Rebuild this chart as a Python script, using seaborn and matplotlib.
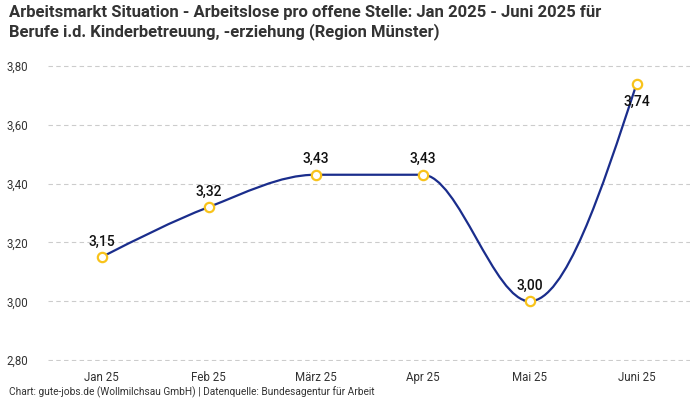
import matplotlib
matplotlib.use("Agg")
import matplotlib.pyplot as plt
import seaborn as sns
import pandas as pd
from matplotlib.path import Path
from matplotlib.patches import PathPatch

monate = ['Jan 25', 'Feb 25', 'März 25', 'Apr 25', 'Mai 25', 'Juni 25']
werte = [3.15, 3.32, 3.43, 3.43, 3.00, 3.74]
y_ticks = [2.8, 3.0, 3.2, 3.4, 3.6, 3.8]

line_col = '#1a2d8c'
dot_col = '#f8c31b'

sns.set_theme(style='white')
plt.rcParams['font.family'] = ['Roboto', 'DejaVu Sans']

df = pd.DataFrame({'Monat': monate, 'Wert': werte})
df['pos'] = range(len(df))


def monotone_path(xs, ys):
    # monotone cubic curve (like d3 curveMonotoneX) as bezier path
    n = len(xs)
    s = [(ys[i + 1] - ys[i]) / (xs[i + 1] - xs[i]) for i in range(n - 1)]
    t = [0.0] * n
    for i in range(1, n - 1):
        h0 = xs[i] - xs[i - 1]
        h1 = xs[i + 1] - xs[i]
        s0, s1 = s[i - 1], s[i]
        p = (s0 * h1 + s1 * h0) / (h0 + h1)
        sg = (1 if s0 > 0 else -1 if s0 < 0 else 0) + (1 if s1 > 0 else -1 if s1 < 0 else 0)
        t[i] = sg * min(abs(s0), abs(s1), 0.5 * abs(p)) if sg else 0.0
    t[0] = (3 * s[0] - t[1]) / 2
    t[-1] = (3 * s[-1] - t[-2]) / 2
    verts = [(xs[0], ys[0])]
    codes = [Path.MOVETO]
    for i in range(n - 1):
        dx = (xs[i + 1] - xs[i]) / 3
        verts += [(xs[i] + dx, ys[i] + dx * t[i]),
                  (xs[i + 1] - dx, ys[i + 1] - dx * t[i + 1]),
                  (xs[i + 1], ys[i + 1])]
        codes += [Path.CURVE4] * 3
    return Path(verts, codes)


fig = plt.figure(figsize=(7, 4), dpi=100)
ax = fig.add_axes([0.0686, 0.0975, 0.9174, 0.74])

ax.add_patch(PathPatch(monotone_path(list(df['pos']), list(df['Wert'])),
                       facecolor='none', edgecolor=line_col, lw=1.6, zorder=3))
sns.scatterplot(data=df, x='pos', y='Wert', ax=ax, s=45, color='white',
                edgecolor=dot_col, linewidth=1.6, zorder=4, legend=False)

for i, v in enumerate(werte):
    lab = f'{v:.2f}'.replace('.', ',')
    if v == max(werte):
        ax.annotate(lab, (i, v), xytext=(0, -8), textcoords='offset points',
                    ha='center', va='top', fontsize=10, fontweight='medium', color='#111111', zorder=5)
    else:
        ax.annotate(lab, (i, v), xytext=(0, 6), textcoords='offset points',
                    ha='center', va='bottom', fontsize=10, fontweight='medium', color='#111111', zorder=5)

ax.set_xlim(-0.5, len(monate) - 0.5)
ax.set_ylim(2.797, 3.803)
ax.set_xticks(range(len(monate)))
ax.set_xticklabels(monate)
ax.set_yticks(y_ticks)
ax.set_yticklabels([f'{y:.2f}'.replace('.', ',') for y in y_ticks])
ax.tick_params(axis='both', labelsize=8.3, colors='#333333', length=0)
ax.tick_params(axis='x', pad=7)
ax.tick_params(axis='y', pad=14)
ax.grid(axis='y', color='#cccccc', linestyle=(0, (4, 3)), lw=0.8)
ax.set_axisbelow(True)
for sp in ax.spines.values():
    sp.set_visible(False)
ax.set_xlabel('')
ax.set_ylabel('')

fig.text(0.013, 0.988, 'Arbeitsmarkt Situation - Arbeitslose pro offene Stelle: Jan 2025 - Juni 2025 für\n'
         'Berufe i.d. Kinderbetreuung, -erziehung (Region Münster)',
         ha='left', va='top', fontsize=12, fontweight='bold', color='#333333', linespacing=1.25)
fig.text(0.013, 0.004, 'Chart: gute-jobs.de (Wollmilchsau GmbH) | Datenquelle: Bundesagentur für Arbeit',
         ha='left', va='bottom', fontsize=7.3, color='#333333')

fig.savefig('out.png', dpi=100)
